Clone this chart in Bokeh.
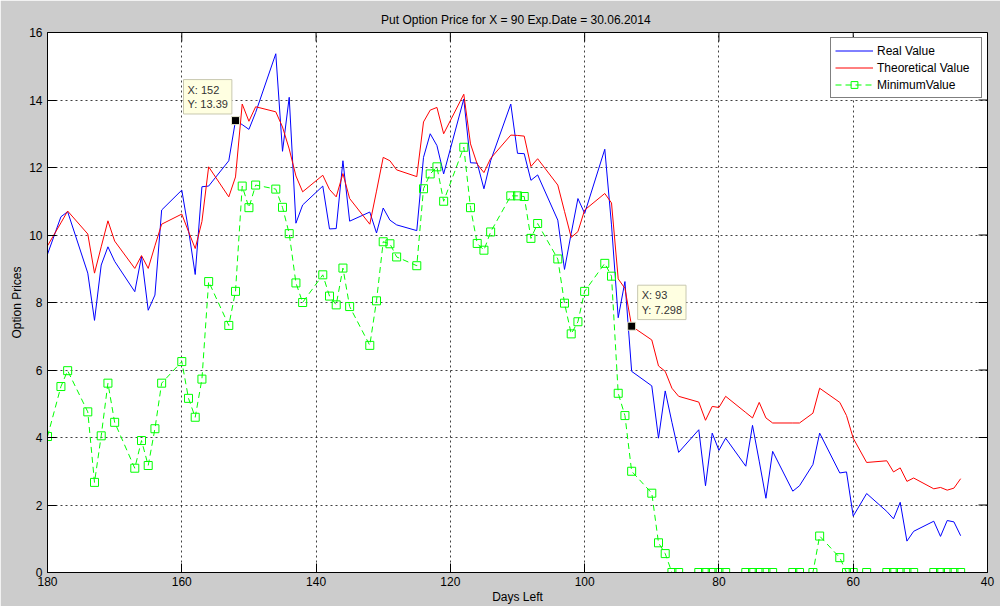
from bokeh.plotting import figure
from bokeh.models import Range1d, FixedTicker, Label
from bokeh.embed import file_html
from bokeh.resources import INLINE

# ---------------- data ----------------
days = [180, 178, 177, 174, 173, 172, 171, 170, 167, 166, 165, 164, 163,
        160, 159, 158, 157, 156, 153, 152, 151, 150, 149, 146, 145, 144,
        143, 142, 139, 138, 137, 136, 135, 132, 131, 130, 129, 128, 125,
        124, 123, 122, 121, 118, 117, 116, 115, 114, 111, 110, 109, 108,
        107, 104, 103, 102, 101, 100, 97, 96, 95, 94, 93, 90, 89, 88, 87,
        86, 83, 82, 81, 80, 79, 76, 75, 74, 73, 72, 69, 68, 66, 65, 62,
        61, 60, 58, 55, 54, 53, 52, 51, 48, 47, 46, 45, 44]

real_value = [9.43, 10.54, 10.69, 8.87, 7.47, 9.11, 9.65, 9.22, 8.32, 9.37,
              7.77, 8.22, 10.74, 11.33, 10.15, 8.83, 11.43, 11.45, 12.2,
              13.39, 13.27, 13.13, 13.63, 15.37, 12.48, 14.08, 10.35, 10.89,
              11.45, 10.18, 10.19, 12.2, 10.41, 10.68, 10.06, 10.8, 10.44,
              10.3, 10.13, 12.3, 13.0, 12.65, 11.81, 14.03, 12.14, 12.13,
              11.37, 12.2, 13.88, 12.42, 12.41, 11.62, 11.78, 10.44, 8.98,
              10.05, 11.08, 10.64, 12.54, 10.3, 7.55, 8.62, 5.96, 5.53, 3.98,
              5.38, 4.45, 3.56, 4.23, 2.57, 4.13, 3.62, 3.98, 3.15, 4.36,
              3.3, 2.2, 3.59, 2.41, 2.57, 3.2, 4.13, 2.95, 2.98, 1.67, 2.34,
              1.81, 1.59, 2.08, 0.93, 1.22, 1.52, 1.07, 1.54, 1.5, 1.09]

theoretical_value = [9.68, 10.36, 10.71, 10.03, 8.87, 9.65, 10.42, 9.82,
                     9.01, 9.39, 9.01, 9.68, 10.32, 10.62, 10.1, 9.6, 10.4,
                     12.02, 11.13, 11.72, 13.88, 13.37, 13.8, 13.65, 13.2,
                     12.55, 11.75, 11.28, 11.77, 11.35, 11.13, 11.82, 11.08,
                     10.32, 11.3, 12.3, 12.2, 11.93, 11.73, 13.35, 13.7,
                     13.78, 13.0, 14.17, 12.7, 12.1, 11.85, 12.27, 12.96,
                     12.95, 12.93, 12.03, 12.26, 11.48, 10.7, 9.93, 10.1,
                     10.74, 11.23, 10.95, 8.7, 8.42, 7.298, 6.89, 6.12, 5.96,
                     5.46, 5.22, 5.05, 4.51, 4.92, 4.89, 5.22, 4.74, 4.58,
                     5.04, 4.58, 4.43, 4.43, 4.43, 4.72, 5.46, 5.04, 4.65,
                     3.98, 3.26, 3.31, 2.98, 3.1, 2.7, 2.8, 2.48, 2.52, 2.44,
                     2.5, 2.78]

minimum_value = [4.03, 5.51, 5.98, 4.76, 2.67, 4.05, 5.61, 4.45, 3.09, 3.91,
                 3.17, 4.26, 5.61, 6.25, 5.16, 4.6, 5.73, 8.62, 7.32, 8.33,
                 11.45, 10.81, 11.48, 11.36, 10.82, 10.04, 8.58, 8.0, 8.82,
                 8.19, 7.93, 9.02, 7.88, 6.73, 8.05, 9.8, 9.74, 9.35, 9.09,
                 11.37, 11.81, 12.02, 11.0, 12.6, 10.81, 9.75, 9.55, 10.09,
                 11.16, 11.16, 11.14, 9.9, 10.34, 9.29, 7.98, 7.07, 7.43,
                 8.33, 9.16, 8.78, 5.31, 4.65, 3.0, 2.35, 0.88, 0.56, 0, 0,
                 0, 0, 0, 0, 0, 0, 0, 0, 0, 0, 0, 0, 0, 1.08, 0.44, 0, 0, 0,
                 0, 0, 0, 0, 0, 0, 0, 0, 0, 0]

tip_x = [152, 93]
tip_y = [13.39, 7.298]
tip_text = ["X: 152\nY: 13.39", "X: 93\nY: 7.298"]

x_ticks = [180, 160, 140, 120, 100, 80, 60, 40]
y_ticks = [0, 2, 4, 6, 8, 10, 12, 14, 16]

TITLE = "Put Option Price for X = 90  Exp.Date = 30.06.2014"
FONT = "Liberation Sans"
BG = "#CCCCCC"

X_START, X_END = 180, 40
Y_START, Y_END = 0, 16
FRAME_W, FRAME_H = 940, 540
TICK_PX = 9

# ---------------- figure ----------------
p = figure(frame_width=FRAME_W, frame_height=FRAME_H,
           x_range=Range1d(X_START, X_END), y_range=Range1d(Y_START, Y_END),
           output_backend="svg", toolbar_location=None,
           min_border_left=47, min_border_right=13,
           min_border_top=32, min_border_bottom=32,
           background_fill_color="white", border_fill_color=BG,
           outline_line_color="black", outline_line_width=1)

p.title.text = TITLE
p.title.align = "center"
p.title.text_font = FONT
p.title.text_font_size = "12px"
p.title.text_font_style = "normal"
p.title.text_color = "black"
p.title.standoff = 11

xax = p.xaxis[0]
yax = p.yaxis[0]
xax.ticker = FixedTicker(ticks=x_ticks)
yax.ticker = FixedTicker(ticks=y_ticks)

for ax in (xax, yax):
    ax.major_tick_in = TICK_PX
    ax.major_tick_out = 0
    ax.minor_tick_in = 0
    ax.minor_tick_out = 0
    ax.axis_line_color = "black"
    ax.major_tick_line_color = "black"
    ax.major_label_text_font = FONT
    ax.major_label_text_font_size = "12px"
    ax.major_label_text_color = "black"
    ax.axis_label_text_font = FONT
    ax.axis_label_text_font_size = "12px"
    ax.axis_label_text_font_style = "normal"
    ax.axis_label_text_color = "black"

xax.axis_label = "Days Left"
xax.axis_label_standoff = 1
xax.major_label_standoff = 4
yax.axis_label = "Option Prices"
yax.axis_label_standoff = 2
yax.major_label_standoff = 5

for g in (p.xgrid, p.ygrid):
    g.grid_line_color = "black"
    g.grid_line_alpha = 0.75
    g.grid_line_dash = "2 3"

# inward ticks on the top and right edges of the box (MATLAB style)
dy = TICK_PX * (Y_END - Y_START) / FRAME_H
dx = TICK_PX * (X_START - X_END) / FRAME_W
p.segment(x0=x_ticks, y0=[Y_END] * len(x_ticks),
          x1=x_ticks, y1=[Y_END - dy] * len(x_ticks),
          line_color="black", line_width=1)
p.segment(x0=[X_END] * len(y_ticks), y0=y_ticks,
          x1=[X_END + dx] * len(y_ticks), y1=y_ticks,
          line_color="black", line_width=1)

# ---------------- data glyphs ----------------
p.line(days, real_value, line_color="#0000FF", line_width=1,
       legend_label="Real Value")
p.line(days, theoretical_value, line_color="#FF0000", line_width=1,
       legend_label="Theoretical Value")
p.line(days, minimum_value, line_color="#00FF00", line_width=1,
       line_dash="6 4", legend_label="MinimumValue")
p.scatter(days, minimum_value, marker="square", size=8, fill_color=None,
          line_color="#00FF00", line_width=1, legend_label="MinimumValue")

# data tips
p.scatter(tip_x, tip_y, marker="square", size=8, fill_color="black",
          line_color="#E8E8D0", line_width=1)

offsets = [(-52, 41), (6, 41)]
for (tx, ty, tt), (ox, oy) in zip(zip(tip_x, tip_y, tip_text), offsets):
    p.add_layout(Label(x=tx, y=ty, text=tt, x_offset=ox, y_offset=oy,
                       text_align="left", text_baseline="top",
                       text_font=FONT, text_font_size="11px",
                       text_color="#333333", text_line_height=1.2,
                       background_fill_color="#FFFFE1",
                       border_line_color="#C8C8B0", padding=4))

# legend
lg = p.legend[0]
lg.location = "top_right"
lg.margin = 5
lg.padding = 4
lg.spacing = 0
lg.label_height = 17
lg.glyph_height = 17
lg.glyph_width = 38
lg.label_width = 100
lg.label_standoff = 4
lg.label_text_font = FONT
lg.label_text_font_size = "12px"
lg.label_text_color = "black"
lg.border_line_color = "black"
lg.border_line_width = 1
lg.background_fill_color = "white"
lg.background_fill_alpha = 1

open("out.html", "w").write(file_html(p, INLINE))
